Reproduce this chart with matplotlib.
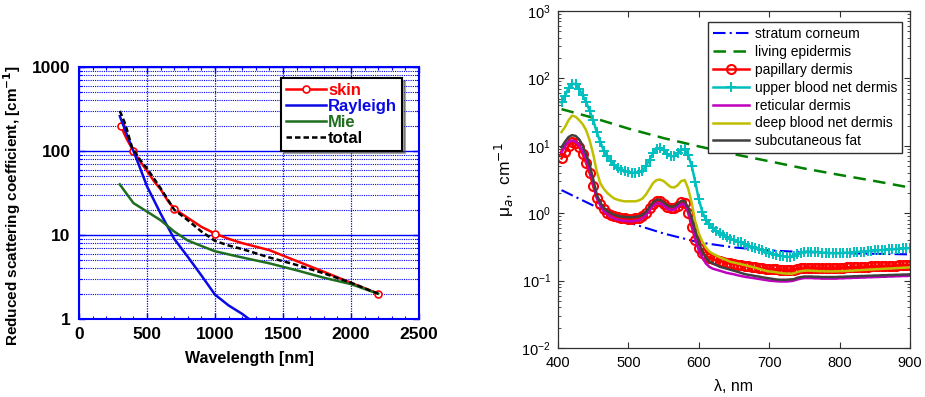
import matplotlib
matplotlib.use("Agg")
import matplotlib.pyplot as plt
from matplotlib.ticker import FixedLocator, MultipleLocator, LogLocator, NullFormatter

plt.rcParams['font.family'] = ['Liberation Sans', 'DejaVu Sans']

# ---- left panel: reduced scattering ----
skin_x = [306, 350, 400, 450, 500, 550, 600, 650, 700, 800, 900, 1000, 1100, 1200, 1400, 1600, 1800, 2000, 2200]
skin_y = [200, 140, 100, 75, 58, 44, 35, 26, 20.5, 16, 12.5, 10.4, 9.0, 8.0, 6.6, 4.9, 3.65, 2.7, 2.0]
skin_marks = [0, 2, 8, 11, 18]

ray_x = [300, 350, 400, 450, 500, 600, 700, 800, 900, 1000, 1100, 1200, 1250]
ray_y = [260, 160, 100, 62, 38, 18, 9.0, 5.5, 3.3, 1.95, 1.45, 1.15, 1.0]

mie_x = [300, 400, 500, 600, 700, 800, 900, 1000, 1200, 1400, 1600, 1800, 2000, 2200]
mie_y = [40, 24, 19, 15, 11, 8.6, 7.4, 6.4, 5.4, 4.6, 3.8, 3.1, 2.6, 2.0]

tot_x = [300, 340, 390, 450, 500, 600, 700, 800, 900, 1000, 1100, 1200, 1400, 1600, 1800, 2000, 2200]
tot_y = [300, 210, 110, 78, 62, 36, 20, 15, 11, 8.5, 7.5, 6.8, 5.4, 4.4, 3.5, 2.7, 2.0]

# ---- right panel: absorption of skin layers ----
lam = list(range(405, 905, 5))

sc_x = [405, 450, 500, 550, 600, 650, 700, 750, 800, 850, 900]
sc_y = [2.2, 1.3, 0.73, 0.5, 0.37, 0.31, 0.28, 0.265, 0.255, 0.25, 0.245]

le_x = [405, 450, 500, 550, 600, 650, 700, 750, 800, 850, 900]
le_y = [35, 26, 18, 13, 9.8, 7.5, 5.9, 4.6, 3.7, 3.0, 2.4]

papillary = [6.5, 8.0, 10.0, 11.5, 11.0, 9.5, 7.5, 5.5, 3.9, 2.5,
             1.7, 1.35, 1.15, 1.02, 0.95, 0.9, 0.87, 0.85, 0.84, 0.83,
             0.83, 0.84, 0.86, 0.91, 1.0, 1.18, 1.37, 1.5, 1.5, 1.38,
             1.25, 1.18, 1.2, 1.3, 1.45, 1.4, 1.0, 0.62, 0.4, 0.3,
             0.26, 0.235, 0.22, 0.21, 0.2, 0.195, 0.19, 0.185, 0.18, 0.177,
             0.173, 0.17, 0.167, 0.164, 0.161, 0.158, 0.155, 0.153, 0.151, 0.15,
             0.148, 0.147, 0.146, 0.145, 0.145, 0.145, 0.146, 0.151, 0.154, 0.156,
             0.156, 0.156, 0.155, 0.155, 0.155, 0.155, 0.155, 0.155, 0.155, 0.156,
             0.156, 0.157, 0.158, 0.158, 0.159, 0.16, 0.16, 0.161, 0.162, 0.163,
             0.163, 0.164, 0.165, 0.166, 0.166, 0.167, 0.168, 0.169, 0.17, 0.17]

upper_blood = [44, 55, 72, 84, 82, 70, 56, 44, 33, 24,
               16, 11.5, 8.5, 7.0, 6.0, 5.2, 4.7, 4.4, 4.2, 4.1,
               4.0, 4.0, 4.1, 4.3, 5.0, 6.2, 7.8, 9.0, 9.3, 8.6,
               7.6, 7.0, 7.0, 7.8, 8.8, 8.9, 7.2, 5.0, 2.9, 1.6,
               1.05, 0.80, 0.68, 0.60, 0.54, 0.50, 0.47, 0.44, 0.42, 0.40,
               0.38, 0.37, 0.35, 0.33, 0.32, 0.30, 0.29, 0.28, 0.265, 0.255,
               0.245, 0.24, 0.235, 0.23, 0.225, 0.225, 0.23, 0.245, 0.26, 0.27,
               0.27, 0.27, 0.265, 0.265, 0.26, 0.26, 0.255, 0.255, 0.255, 0.255,
               0.26, 0.26, 0.26, 0.265, 0.265, 0.27, 0.27, 0.275, 0.275, 0.28,
               0.28, 0.285, 0.285, 0.29, 0.29, 0.295, 0.295, 0.30, 0.30, 0.305]

reticular = [8.0, 9.8, 11.5, 12.0, 11.5, 10.2, 8.3, 6.3, 4.4, 2.8,
             1.7, 1.3, 1.07, 0.96, 0.88, 0.83, 0.8, 0.78, 0.77, 0.76,
             0.76, 0.77, 0.79, 0.84, 0.93, 1.1, 1.28, 1.4, 1.4, 1.3,
             1.18, 1.12, 1.13, 1.24, 1.36, 1.35, 1.05, 0.7, 0.42, 0.28,
             0.22, 0.18, 0.16, 0.15, 0.145, 0.14, 0.135, 0.13, 0.127, 0.124,
             0.12, 0.117, 0.114, 0.112, 0.11, 0.108, 0.106, 0.104, 0.102, 0.1,
             0.099, 0.098, 0.097, 0.097, 0.097, 0.098, 0.1, 0.104, 0.107, 0.109,
             0.109, 0.109, 0.108, 0.108, 0.107, 0.107, 0.107, 0.107, 0.107, 0.108,
             0.108, 0.109, 0.109, 0.11, 0.11, 0.111, 0.111, 0.112, 0.112, 0.113,
             0.113, 0.114, 0.114, 0.115, 0.115, 0.116, 0.116, 0.117, 0.117, 0.118]

deep_blood = [16, 19, 24, 28, 27, 24, 21, 17, 12, 7.5,
              4.2, 2.8, 2.3, 2.0, 1.8, 1.65, 1.58, 1.53, 1.5, 1.5,
              1.5, 1.5, 1.55, 1.65, 1.9, 2.3, 2.8, 3.1, 3.15, 3.0,
              2.7, 2.45, 2.4, 2.6, 3.0, 3.1, 2.3, 1.4, 0.75, 0.5,
              0.38, 0.31, 0.27, 0.25, 0.235, 0.22, 0.21, 0.2, 0.19, 0.185,
              0.18, 0.175, 0.17, 0.165, 0.16, 0.155, 0.15, 0.145, 0.14, 0.137,
              0.135, 0.133, 0.13, 0.128, 0.127, 0.126, 0.128, 0.134, 0.138, 0.14,
              0.141, 0.14, 0.139, 0.138, 0.138, 0.137, 0.137, 0.137, 0.137, 0.138,
              0.138, 0.139, 0.14, 0.141, 0.142, 0.143, 0.144, 0.145, 0.146, 0.147,
              0.148, 0.149, 0.15, 0.151, 0.152, 0.153, 0.154, 0.155, 0.156, 0.157]

subcut_fat = [9.5, 11.5, 13.5, 14.4, 14, 12.5, 10, 7.5, 5.2, 3.2,
              1.9, 1.45, 1.2, 1.08, 1.0, 0.95, 0.91, 0.89, 0.88, 0.87,
              0.87, 0.88, 0.9, 0.95, 1.05, 1.25, 1.45, 1.58, 1.58, 1.45,
              1.32, 1.25, 1.26, 1.38, 1.52, 1.5, 1.2, 0.85, 0.55, 0.37,
              0.27, 0.22, 0.19, 0.18, 0.17, 0.16, 0.155, 0.15, 0.145, 0.14,
              0.135, 0.13, 0.125, 0.122, 0.12, 0.117, 0.115, 0.112, 0.11, 0.108,
              0.106, 0.104, 0.103, 0.103, 0.103, 0.104, 0.105, 0.11, 0.113, 0.115,
              0.115, 0.115, 0.114, 0.114, 0.113, 0.113, 0.113, 0.113, 0.113, 0.114,
              0.114, 0.115, 0.115, 0.116, 0.116, 0.117, 0.117, 0.118, 0.118, 0.119,
              0.119, 0.12, 0.12, 0.121, 0.121, 0.122, 0.122, 0.123, 0.123, 0.124]

fig = plt.figure(figsize=(9.25, 3.97), dpi=100)

# ================= left =================
ax1 = fig.add_axes([79/925, 78/397, 340/925, 252/397])
blue = '#0000ff'
ax1.semilogy(skin_x, skin_y, '-', color='red', lw=1.8, marker='o', ms=5, mfc='white',
             mec='red', mew=1.2, markevery=skin_marks, label='skin', zorder=3)
ax1.semilogy(ray_x, ray_y, '-', color='#0a0ae6', lw=1.8, label='Rayleigh', zorder=3)
ax1.semilogy(mie_x, mie_y, '-', color='#1f6e1f', lw=1.8, label='Mie', zorder=3)
ax1.semilogy(tot_x, tot_y, '--', color='black', lw=1.8, dashes=(2.2, 1.2), label='total', zorder=4)

ax1.set_xlim(0, 2500)
ax1.set_ylim(1, 1000)
ax1.xaxis.set_major_locator(MultipleLocator(500))
ax1.xaxis.set_minor_locator(MultipleLocator(100))
ax1.yaxis.set_major_locator(FixedLocator([1, 10, 100, 1000]))
ax1.set_yticklabels(['1', '10', '100', '1000'])
ax1.yaxis.set_minor_locator(LogLocator(base=10, subs=range(2, 10)))
ax1.yaxis.set_minor_formatter(NullFormatter())
ax1.grid(which='major', axis='y', color=blue, ls='-', lw=1.0)
ax1.grid(which='minor', axis='y', color=blue, ls=(0, (1, 1)), lw=0.8)
ax1.grid(which='major', axis='x', color=blue, ls=(0, (1, 1)), lw=0.9)
for s in ax1.spines.values():
    s.set_color(blue)
    s.set_linewidth(1.5)
ax1.tick_params(which='both', direction='in', top=True, right=True, color=blue)
ax1.tick_params(which='major', length=4, width=1, labelsize=12.5, pad=6)
ax1.tick_params(which='minor', length=2.5, width=0.8)
for lbl in ax1.get_xticklabels() + ax1.get_yticklabels():
    lbl.set_fontweight('bold')
ax1.set_xlabel('Wavelength [nm]', fontsize=11.5, fontweight='bold', labelpad=6)
ax1.set_ylabel('Reduced scattering coefficient, [cm$^{\\mathbf{-1}}$]', fontsize=11,
               fontweight='bold')
ax1.yaxis.set_label_coords(-0.165, 0.45)

leg1 = ax1.legend(loc='upper right', bbox_to_anchor=(0.95, 0.956), borderaxespad=0,
                  fancybox=False, shadow=True, framealpha=1, edgecolor='black',
                  labelcolor='linecolor', prop={'weight': 'bold', 'size': 12},
                  handlelength=2.4, handletextpad=0.1, labelspacing=0.05,
                  borderpad=0.3)
leg1.get_frame().set_linewidth(1.5)

# ================= right =================
ax2 = fig.add_axes([558/925, 49/397, 352/925, 337/397])
ax2.semilogy(sc_x, sc_y, color='#0000ff', lw=1.5, ls=(0, (6, 2, 1, 2)), label='stratum corneum')
ax2.semilogy(le_x, le_y, color='#008000', lw=1.8, ls=(0, (5, 3)), label='living epidermis')
ax2.semilogy(lam, papillary, color='red', lw=1.8, marker='o', ms=6.5, mfc='none', mec='red',
             mew=1.5, label='papillary dermis')
ax2.semilogy(lam, upper_blood, color='#00bfbf', lw=1.8, marker='+', ms=7, mew=1.4,
             label='upper blood net dermis')
ax2.semilogy(lam, reticular, color='#bf00bf', lw=1.8, label='reticular dermis')
ax2.semilogy(lam, deep_blood, color='#bfbf00', lw=1.8, label='deep blood net dermis')
ax2.semilogy(lam, subcut_fat, color='#404040', lw=1.8, label='subcutaneous fat')

ax2.set_xlim(400, 900)
ax2.set_ylim(1e-2, 1e3)
ax2.xaxis.set_major_locator(MultipleLocator(100))
ax2.yaxis.set_major_locator(LogLocator(base=10, numticks=10))
ax2.yaxis.set_minor_locator(LogLocator(base=10, subs=range(2, 10), numticks=20))
ax2.yaxis.set_minor_formatter(NullFormatter())
for s in ax2.spines.values():
    s.set_color('#303030')
    s.set_linewidth(0.9)
ax2.tick_params(which='both', direction='in', top=True, right=True, color='#303030')
ax2.tick_params(which='major', length=4, labelsize=10.5)
ax2.tick_params(axis='x', which='major', pad=6)
ax2.tick_params(axis='y', which='major', pad=5)
ax2.tick_params(which='minor', length=2)
ax2.set_xlabel('λ, nm', fontsize=11.5, labelpad=6)
ax2.set_ylabel('μ$_a$,  cm$^{-1}$', fontsize=12.5, labelpad=4)

leg2 = ax2.legend(loc='upper right', bbox_to_anchor=(0.977, 0.967), borderaxespad=0,
                  fancybox=False, framealpha=1, edgecolor='#303030', fontsize=10,
                  handlelength=2.6, handletextpad=0.4, labelspacing=0.28,
                  borderpad=0.35)
leg2.get_frame().set_linewidth(1.0)

fig.savefig('out.png', dpi=100)
